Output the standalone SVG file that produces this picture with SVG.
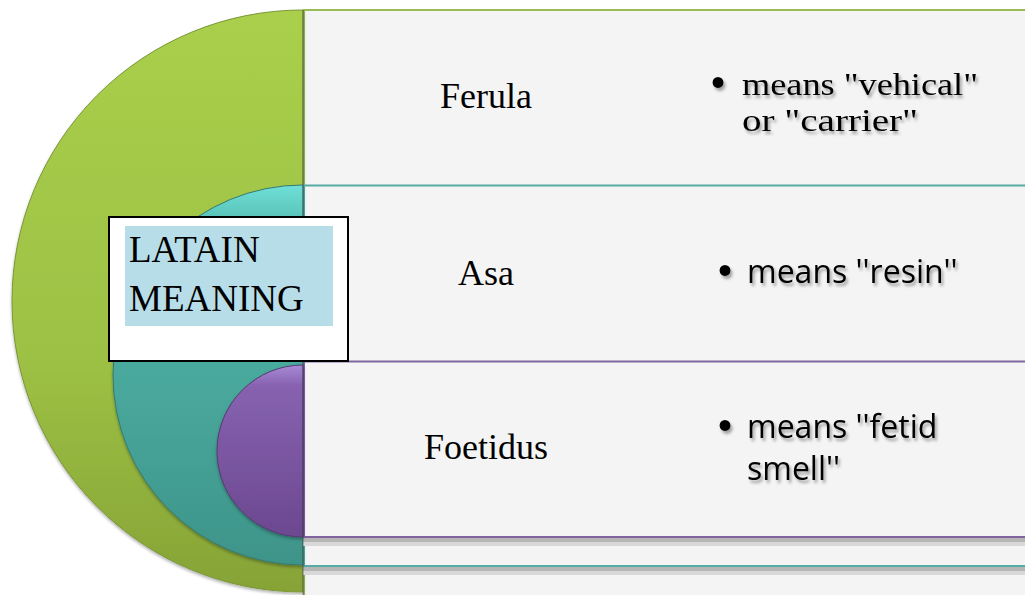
<svg xmlns="http://www.w3.org/2000/svg" width="1025" height="595" viewBox="0 0 1025 595">
  <style>
    .serif { font-family: "Liberation Serif", "Times New Roman", serif; fill: #000; }
    .sans { font-family: "Open Sans", "Liberation Sans", sans-serif; fill: #000; }
    .label { font-size: 36px; text-anchor: middle; }
    .panel { fill: #f4f4f4; stroke-width: 2; }
    .sh1 { fill: #b6b6b6; }
    .sh2 { fill: #d8d8d8; }
    .bul { font-family: "Liberation Sans", sans-serif; font-size: 40px; }
  </style>
  <defs>
    <linearGradient id="gGreen" x1="0" y1="0" x2="0" y2="1">
      <stop offset="0" stop-color="#a9cf4c"/>
      <stop offset="0.6" stop-color="#9dc144"/>
      <stop offset="1" stop-color="#86a336"/>
    </linearGradient>
    <linearGradient id="gTeal" x1="0" y1="0" x2="0" y2="1">
      <stop offset="0" stop-color="#6fe0d8"/>
      <stop offset="0.12" stop-color="#52b8ac"/>
      <stop offset="1" stop-color="#3e9489"/>
    </linearGradient>
    <linearGradient id="gPurple" x1="0" y1="0" x2="0" y2="1">
      <stop offset="0" stop-color="#a88ad6"/>
      <stop offset="0.12" stop-color="#8762b0"/>
      <stop offset="1" stop-color="#6c4890"/>
    </linearGradient>
    <filter id="txtShadow" x="-10%" y="-20%" width="130%" height="160%">
      <feDropShadow dx="2" dy="3" stdDeviation="1.6" flood-color="#000" flood-opacity="0.35"/>
    </filter>
    <filter id="diskShadow" x="-10%" y="-10%" width="120%" height="120%">
      <feDropShadow dx="0" dy="2" stdDeviation="1.5" flood-color="#000" flood-opacity="0.3"/>
    </filter>
  </defs>

  <rect width="1025" height="595" fill="#ffffff"/>

  <!-- Band 1: Ferula -->
  <g id="node-ferula">
    <rect class="panel" x="304" y="10" width="730" height="600" stroke="#9bbb59"/>
    <path d="M303,10 A291,291 0 0 0 303,592 Z" fill="url(#gGreen)" stroke="#7a9638" stroke-width="1" filter="url(#diskShadow)"/>
    <text class="serif label" x="486" y="108">Ferula</text>
    <g filter="url(#txtShadow)">
      <text class="bul" x="711" y="96">•</text>
      <text class="serif" font-size="31"><tspan x="742" y="95" textLength="236" lengthAdjust="spacingAndGlyphs">means "vehical"</tspan><tspan x="742" y="131" textLength="176" lengthAdjust="spacingAndGlyphs">or "carrier"</tspan></text>
    </g>
  </g>

  <!-- Band 2: Asa -->
  <g id="node-asa">
    <rect class="sh1" x="303" y="567" width="730" height="4"/>
    <rect class="sh2" x="303" y="571" width="730" height="4"/>
    <rect class="panel" x="304" y="185.5" width="730" height="380.5" stroke="#55aca4"/>
    <path d="M303,185 A190,190 0 0 0 303,565 Z" fill="url(#gTeal)" stroke="#357a72" stroke-width="1" filter="url(#diskShadow)"/>
    <text class="serif label" x="486" y="285">Asa</text>
    <g filter="url(#txtShadow)">
      <text class="bul" x="718" y="284">•</text>
      <text class="sans" font-size="32" x="747" y="283">means ''resin''</text>
    </g>
  </g>

  <!-- Band 3: Foetidus -->
  <g id="node-foetidus">
    <rect class="sh1" x="303" y="538" width="730" height="4"/>
    <rect class="sh2" x="303" y="542" width="730" height="4"/>
    <rect class="panel" x="304" y="361.5" width="730" height="175.5" stroke="#8064a2"/>
    <path d="M303,365 A86,86 0 0 0 303,537 Z" fill="url(#gPurple)" stroke="#553a72" stroke-width="1" filter="url(#diskShadow)"/>
    <text class="serif label" x="486" y="459">Foetidus</text>
    <g filter="url(#txtShadow)">
      <text class="bul" x="718" y="439">•</text>
      <text class="sans" font-size="32"><tspan x="747" y="438">means ''fetid</tspan><tspan x="747" y="480">smell''</tspan></text>
    </g>
  </g>

  <!-- divider line at left edge of panels -->
  <line x1="303" y1="10" x2="303" y2="595" stroke="#3a3a3a" stroke-width="1" opacity="0.6"/>

  <!-- Title box -->
  <g id="node-title">
    <rect x="109" y="217" width="239" height="144" fill="#ffffff" stroke="#000000" stroke-width="2"/>
    <rect x="125" y="226" width="208" height="100" fill="#b7dde8"/>
    <text class="serif" font-size="37"><tspan x="129" y="262">LATAIN</tspan><tspan x="129" y="311">MEANING</tspan></text>
  </g>

  <g id="connectors"/>
</svg>
